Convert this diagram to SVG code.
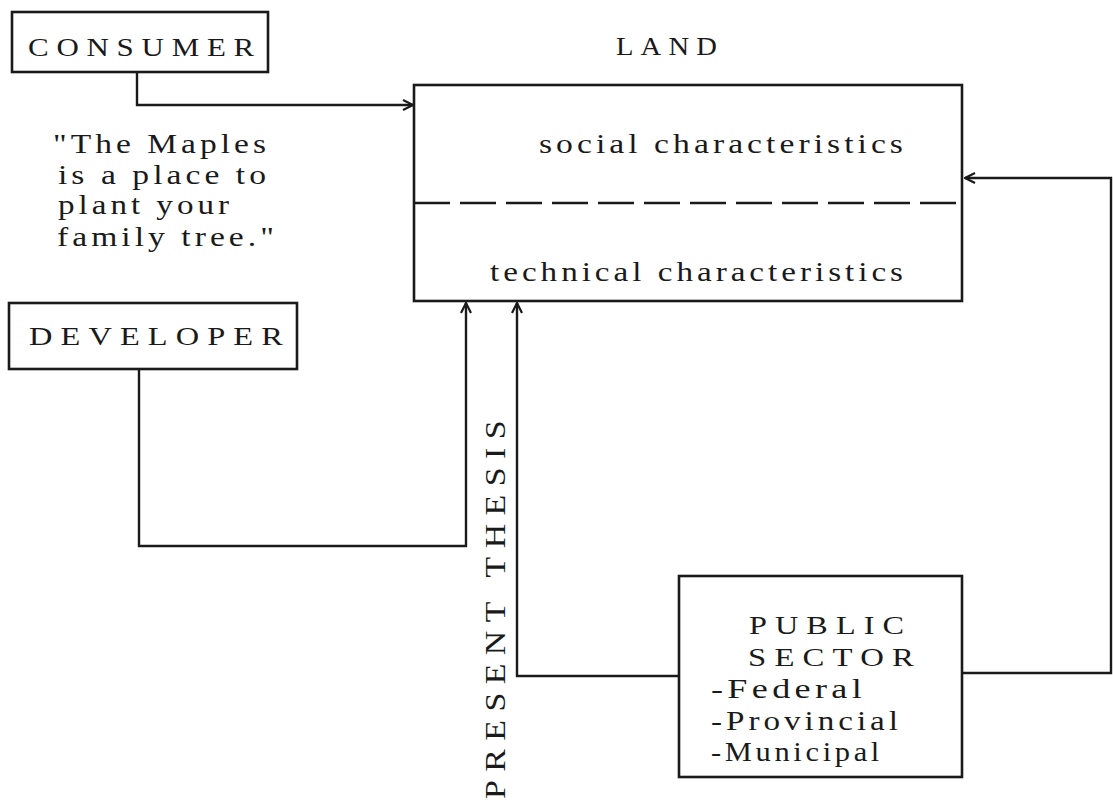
<svg xmlns="http://www.w3.org/2000/svg" width="1113" height="804" viewBox="0 0 1113 804">
<defs>
<style>
.box{fill:none;stroke:#1a1a1a;stroke-width:2.6}
.ln{fill:none;stroke:#1a1a1a;stroke-width:2.4}
.t{font-family:"Liberation Serif","Times New Roman",serif;fill:#1a1a1a}
.cap{letter-spacing:0.25em}
.low{letter-spacing:0.12em}
</style>
<marker id="ah" viewBox="0 0 12 12" refX="11" refY="6" markerWidth="12" markerHeight="12" markerUnits="userSpaceOnUse" orient="auto">
<path d="M1,1 L11,6 L1,11" fill="none" stroke="#1a1a1a" stroke-width="2.2"/>
</marker>
</defs>
<rect width="1113" height="804" fill="#ffffff"/>
<g id="connectors">
<path class="ln" d="M137,72 V105 H413" marker-end="url(#ah)"/>
<path class="ln" d="M139,369 V546 H466 V303" marker-end="url(#ah)"/>
<path class="ln" d="M679,676 H517 V303" marker-end="url(#ah)"/>
<path class="ln" d="M962,673 H1111 V178 H965" marker-end="url(#ah)"/>
</g>
<g id="consumer">
<rect class="box" x="12" y="12" width="256" height="60"/>
<text class="t cap" x="28" y="56" font-size="25" textLength="234" lengthAdjust="spacingAndGlyphs">CONSUMER</text>
</g>
<g id="quote">
<text class="t low" font-size="28" x="53" y="153" textLength="217" lengthAdjust="spacingAndGlyphs">"The Maples</text>
<text class="t low" font-size="28" x="58" y="184" textLength="212" lengthAdjust="spacingAndGlyphs">is a place to</text>
<text class="t low" font-size="28" x="58" y="214" textLength="175" lengthAdjust="spacingAndGlyphs">plant your</text>
<text class="t low" font-size="28" x="57" y="246" textLength="221" lengthAdjust="spacingAndGlyphs">family tree."</text>
</g>
<g id="land">
<text class="t cap" x="616" y="55" font-size="25" textLength="108" lengthAdjust="spacingAndGlyphs">LAND</text>
<rect class="box" x="414" y="85" width="548" height="216"/>
<line class="ln" x1="414" y1="203" x2="962" y2="203" stroke-dasharray="36 10"/>
<text class="t low" x="539" y="153" font-size="28" textLength="368" lengthAdjust="spacingAndGlyphs">social characteristics</text>
<text class="t low" x="490" y="281" font-size="28" textLength="417" lengthAdjust="spacingAndGlyphs">technical characteristics</text>
</g>
<g id="developer">
<rect class="box" x="9" y="303" width="288" height="66"/>
<text class="t cap" x="29" y="345" font-size="25" textLength="262" lengthAdjust="spacingAndGlyphs">DEVELOPER</text>
</g>
<g id="thesis">
<text class="t cap" transform="translate(505,799) rotate(-90)" font-size="29" textLength="387" lengthAdjust="spacingAndGlyphs">PRESENT THESIS</text>
</g>
<g id="public">
<rect class="box" x="679" y="576" width="283" height="201"/>
<text class="t cap" x="749" y="634" font-size="25" textLength="163" lengthAdjust="spacingAndGlyphs">PUBLIC</text>
<text class="t cap" x="748" y="666" font-size="25" textLength="174" lengthAdjust="spacingAndGlyphs">SECTOR</text>
<text class="t low" x="711" y="698" font-size="27" textLength="155" lengthAdjust="spacingAndGlyphs">-Federal</text>
<text class="t low" x="711" y="730" font-size="27" textLength="191" lengthAdjust="spacingAndGlyphs">-Provincial</text>
<text class="t low" x="711" y="761" font-size="27" textLength="172" lengthAdjust="spacingAndGlyphs">-Municipal</text>
</g>
</svg>
